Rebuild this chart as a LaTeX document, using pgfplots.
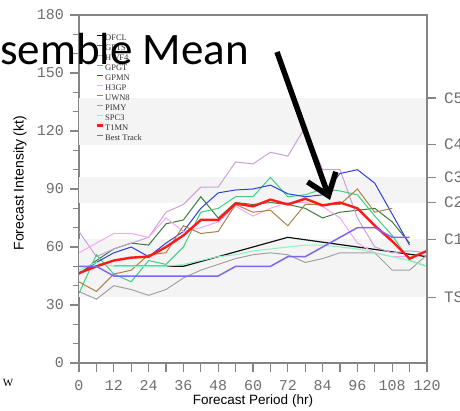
\documentclass[border=0pt]{standalone}
\usepackage{pgfplots}
\pgfplotsset{compat=1.18}
\usepackage{fontspec}
\setmainfont{Liberation Serif}
\newfontfamily\monofont{Liberation Mono}
\newfontfamily\labelfont{Liberation Sans}
\newfontfamily\slidefont{Carlito}
\usetikzlibrary{arrows.meta}

\definecolor{axisgray}{HTML}{858585}
\definecolor{ticktext}{HTML}{6E6E6E}
\definecolor{band}{HTML}{F4F4F4}
\definecolor{cOFCL}{HTML}{111111}
\definecolor{cGFTS}{HTML}{3A7D3A}
\definecolor{cHWF}{HTML}{C8A2D6}
\definecolor{cGPGT}{HTML}{3CCF7E}
\definecolor{cGPMN}{HTML}{2E3FD4}
\definecolor{cH3GP}{HTML}{F6A6F2}
\definecolor{cUWN}{HTML}{A8834A}
\definecolor{cPIMY}{HTML}{A0A0A0}
\definecolor{cSPC}{HTML}{8EF2BE}
\definecolor{cT1MN}{HTML}{FF1A1A}
\definecolor{cBEST}{HTML}{7F66F2}

\pgfplotsset{
  intensity axis/.style={
    at={(79pt,-363pt)}, anchor=south west,
    scale only axis, width=348pt, height=348pt,
    xmin=0, xmax=120, ymin=0, ymax=180,
    axis line style={axisgray, line width=1.3pt},
    tick style={axisgray, line width=1.3pt},
    tick align=outside,
    major tick length=8.5pt, minor tick length=6pt,
    ticklabel style={font=\monofont\fontsize{15}{15}\selectfont, text=ticktext},
    /pgf/number format/assume math mode=true,
  },
}

\begin{document}
\begin{tikzpicture}

\begin{axis}[intensity axis,
    xtick={0,6,...,120},
    xticklabels={0,,12,,24,,36,,48,,60,,72,,84,,96,,108,,120},
    xtick pos=bottom, ytick pos=left,
    ytick={0,30,...,180},
    minor ytick={10,20,40,50,70,80,100,110,130,140,160,170},
    xticklabel style={yshift=-5pt},
    yticklabel style={xshift=-3pt},
    xlabel={Forecast Period (hr)},
    ylabel={Forecast Intensity (kt)},
    every axis x label/.style={at={(axis description cs:0.5,-0.108)}, anchor=center,
      font=\labelfont\fontsize{13.5}{13.5}\selectfont},
    every axis y label/.style={at={(axis description cs:-0.1695,0.517)}, rotate=90, anchor=center,
      font=\labelfont\fontsize{14}{14}\selectfont},
    legend cell align=left,
    legend image code/.code={\draw[#1] (0pt,2.6pt) -- (6pt,2.6pt);},
    legend style={at={(axis description cs:0.049,0.948)}, anchor=north west,
      draw=none, fill=none, inner sep=0pt, row sep=0pt,
      font=\fontsize{8.5}{8.5}\selectfont, text=black!80,
      nodes={inner sep=0.5pt, text height=6.5pt, text depth=2.5pt}},
  ]
  % Saffir-Simpson bands
  \fill[band] (axis cs:0,34) rectangle (axis cs:120,64);
  \fill[band] (axis cs:0,83) rectangle (axis cs:120,96);
  \fill[band] (axis cs:0,113) rectangle (axis cs:120,137);

  \addplot[cOFCL, line width=1.2pt] coordinates {
    (12,50) (24,50) (36,50) (48,55) (60,60) (72,65) (84,62.5) (96,60) (108,57.5) (120,55)};
  \addlegendentry{OFCL}
  \addplot[cGFTS, line width=1pt] coordinates {
    (0,46) (6,53) (12,59) (18,62) (24,61) (30,72) (36,74) (42,86) (48,75) (54,83)
    (60,82) (66,83) (72,82) (78,80) (84,75) (90,78) (96,79) (102,80) (108,73) (114,62)};
  \addlegendentry{GFTS}
  \addplot[cHWF, line width=1pt] coordinates {
    (0,68) (6,55) (12,59) (18,62) (24,65) (30,78) (36,82) (42,91) (48,91) (54,104)
    (60,103) (66,109) (72,107) (78,122) (84,100) (90,100) (96,75) (102,60) (108,57) (114,58) (120,57)};
  \addlegendentry{HWF4}
  \addplot[cGPGT, line width=1pt] coordinates {
    (0,36) (6,56) (12,46) (18,42) (24,53) (30,51) (36,60) (42,78) (48,80) (54,86)
    (60,86) (66,96) (72,86) (78,87) (84,90) (90,89) (96,87) (102,76) (108,66) (114,53) (120,50)};
  \addlegendentry{GPGT}
  \addplot[cGPMN, line width=1pt] coordinates {
    (0,46) (6,52) (12,57) (18,60) (24,55) (30,62) (36,68) (42,80) (48,88) (54,89.5)
    (60,90) (66,92) (72,87.5) (78,86) (84,87) (90,98) (96,100) (102,93) (108,77) (114,61)};
  \addlegendentry{GPMN}
  \addplot[cH3GP, line width=1pt] coordinates {
    (0,57) (6,62) (12,67) (18,67) (24,65) (30,75) (36,68) (42,70) (48,73) (54,81)
    (60,76) (66,80) (72,83) (78,83) (84,81) (90,75) (96,62) (102,57) (108,55) (114,55)};
  \addlegendentry{H3GP}
  \addplot[cUWN, line width=1pt] coordinates {
    (0,42) (6,37) (12,46) (18,48) (24,56) (30,57) (36,71) (42,67) (48,68) (54,82)
    (60,78) (66,79) (72,71) (78,82) (84,82) (90,82) (96,90) (102,78) (108,80)};
  \addlegendentry{UWN8}
  \addplot[cPIMY, line width=1pt] coordinates {
    (0,37) (6,33) (12,40) (18,38) (24,35) (30,38) (36,44) (42,48) (48,51) (54,54)
    (60,56) (66,57) (72,56) (78,52) (84,54) (90,57) (96,57) (102,57) (108,48) (114,48) (120,56)};
  \addlegendentry{PIMY}
  \addplot[cSPC, line width=1pt] coordinates {
    (0,48) (6,52) (12,50) (18,50) (24,50) (30,50) (36,51) (42,53) (48,55) (54,56)
    (60,58) (66,59) (72,60) (78,61) (84,61) (90,60) (96,59) (102,57) (108,55) (114,53) (120,50)};
  \addlegendentry{SPC3}
  \addplot[cT1MN, line width=2.4pt] coordinates {
    (0,46.5) (6,50) (12,53) (18,54.5) (24,55) (30,60) (36,66) (42,74) (48,74) (54,82.5)
    (60,81) (66,84.5) (72,82) (78,85) (84,81.5) (90,83) (96,80) (102,71) (108,63) (114,54) (120,58)};
  \addlegendentry{T1MN}
  \addplot[cBEST, line width=1.5pt] coordinates {
    (0,50) (6,50) (12,45) (18,45) (24,45) (30,45) (36,45) (42,45) (48,45) (54,50)
    (60,50) (66,50) (72,55) (78,55) (84,60) (90,65) (96,70) (102,70) (108,65) (114,65)};
  \addlegendentry{Best Track}
\end{axis}

% storm category scale on the right
\begin{axis}[intensity axis,
    axis x line=none, axis y line*=right,
    ytick={34,64,83,96,113,137},
    yticklabels={TS,C1,C2,C3,C4,C5},
    yticklabel style={xshift=5pt, font=\monofont\fontsize{16}{16}\selectfont},
  ]
\end{axis}

\node[font=\fontsize{11}{11}\selectfont, anchor=center] at (8pt,-383pt) {W};

% "En" of the heading is 45.6pt wide in Carlito at this size
\node[anchor=base west, inner sep=0pt, font=\slidefont\fontsize{45}{45}\selectfont]
  at (-45.6pt,-65pt) {Ensemble Mean};
\draw[line width=5.5pt, -{Straight Barb[length=20pt,width=30pt]}]
  (277pt,-52pt) -- (330pt,-200pt);

\pgfresetboundingbox
\useasboundingbox (0pt,0pt) rectangle (460pt,-411pt);
\end{tikzpicture}
\end{document}
